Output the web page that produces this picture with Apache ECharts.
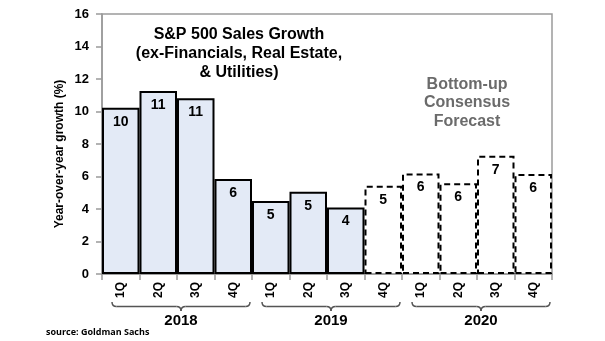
<!DOCTYPE html>
<html><head><meta charset="utf-8">
<script src="https://cdn.jsdelivr.net/npm/echarts@6/dist/echarts.min.js"></script>
<style>html,body{margin:0;padding:0;background:#fff}#c{width:605px;height:341px}</style>
</head><body><div id="c"></div>
<script>
const quarters = ['1Q','2Q','3Q','4Q','1Q','2Q','3Q','4Q','1Q','2Q','3Q','4Q'];
const years = ['2018','2019','2020'];
const actual = [10.23, 11.26, 10.81, 5.85, 4.5, 5.06, 4.1, null, null, null, null, null];
const forecast = [null, null, null, null, null, null, null, 5.43, 6.19, 5.58, 7.28, 6.15];
const barLabels = [10, 11, 11, 6, 5, 5, 4, 5, 6, 6, 7, 6];
const yTicks = [0, 2, 4, 6, 8, 10, 12, 14, 16];

const FONT = '"Liberation Sans", Arial, sans-serif';
const chart = echarts.init(document.getElementById('c'), null, {renderer: 'canvas'});

const labelCfg = {
  show: true, position: 'insideTop', distance: 7,
  color: '#000', fontWeight: 'bold', fontSize: 14, fontFamily: FONT,
  formatter: p => barLabels[p.dataIndex]
};

chart.setOption({
  animation: false,
  grid: {left: 102, right: 53, top: 14, bottom: 67, show: true, borderColor: '#9a9a9a', borderWidth: 1.5},
  xAxis: {
    type: 'category', data: quarters,
    axisLine: {show: true, lineStyle: {color: '#9a9a9a', width: 1.5}},
    axisTick: {show: true, interval: 0, length: 6, lineStyle: {color: '#9a9a9a', width: 1.5}},
    axisLabel: {interval: 0, rotate: 90, margin: 8, color: '#000', fontWeight: 'bold', fontSize: 12, fontFamily: FONT}
  },
  yAxis: {
    type: 'value', min: yTicks[0], max: yTicks[yTicks.length - 1], interval: 2,
    splitLine: {show: false},
    axisLine: {show: true, lineStyle: {color: '#9a9a9a', width: 1.5}},
    axisTick: {show: true, length: 6, inside: false, lineStyle: {color: '#9a9a9a', width: 1.5}},
    axisLabel: {margin: 13, color: '#000', fontWeight: 'bold', fontSize: 13, fontFamily: FONT}
  },
  series: [
    {
      type: 'bar', name: 'Actual', data: actual,
      barCategoryGap: '0%', barGap: '-100%',
      itemStyle: {color: '#e3eaf6', borderColor: '#000', borderWidth: 2},
      label: labelCfg
    },
    {
      type: 'bar', name: 'Forecast', data: forecast,
      barCategoryGap: '0%', barGap: '-100%',
      itemStyle: {color: '#ffffff', borderColor: '#000', borderWidth: 2, borderType: [6, 4]},
      label: labelCfg
    }
  ]
});

// decorations: title, annotation, axis name, braces, year labels, source
const gfx = [];
gfx.push({type: 'text', x: 239, y: 25, style: {
  text: 'S&P 500 Sales Growth\n(ex-Financials, Real Estate,\n& Utilities)',
  fill: '#000', font: 'bold 16px ' + FONT, align: 'center', verticalAlign: 'top', lineHeight: 19}});
gfx.push({type: 'text', x: 467, y: 75, style: {
  text: 'Bottom-up\nConsensus\nForecast',
  fill: '#6b6b6b', font: 'bold 16px ' + FONT, align: 'center', verticalAlign: 'top', lineHeight: 18.5}});
gfx.push({type: 'text', x: 60, y: 154, rotation: Math.PI / 2, style: {
  text: 'Year-over-year growth (%)', fill: '#000', font: 'bold 12px ' + FONT, align: 'center', verticalAlign: 'middle'}});
gfx.push({type: 'text', x: 46, y: 332, style: {
  text: 'source: Goldman Sachs', fill: '#000', font: 'bold 9px "Open Sans", ' + FONT, align: 'left', verticalAlign: 'middle'}});

const braceStyle = {fill: null, stroke: '#555', lineWidth: 1.5};
years.forEach((yr, i) => {
  const left = chart.convertToPixel({xAxisIndex: 0}, i * 4);
  const right = chart.convertToPixel({xAxisIndex: 0}, i * 4 + 3);
  const half = (right - left) / 6;
  const x1 = left - half + 10, x2 = right + half - 2;
  const xm = (x1 + x2) / 2, y0 = 302, r = 4.5, yl = y0 + r;
  gfx.push({type: 'bezierCurve', shape: {x1: x1, y1: y0, cpx1: x1, cpy1: yl, x2: x1 + r, y2: yl}, style: braceStyle});
  gfx.push({type: 'line', shape: {x1: x1 + r, y1: yl, x2: xm - r, y2: yl}, style: braceStyle});
  gfx.push({type: 'bezierCurve', shape: {x1: xm - r, y1: yl, cpx1: xm, cpy1: yl, x2: xm, y2: yl + r}, style: braceStyle});
  gfx.push({type: 'bezierCurve', shape: {x1: xm, y1: yl + r, cpx1: xm, cpy1: yl, x2: xm + r, y2: yl}, style: braceStyle});
  gfx.push({type: 'line', shape: {x1: xm + r, y1: yl, x2: x2 - r, y2: yl}, style: braceStyle});
  gfx.push({type: 'bezierCurve', shape: {x1: x2 - r, y1: yl, cpx1: x2, cpy1: yl, x2: x2, y2: y0}, style: braceStyle});
  gfx.push({type: 'text', x: xm, y: 321, style: {text: yr, fill: '#000', font: 'bold 15px ' + FONT, align: 'center', verticalAlign: 'middle'}});
});
chart.setOption({graphic: gfx});
</script></body></html>
